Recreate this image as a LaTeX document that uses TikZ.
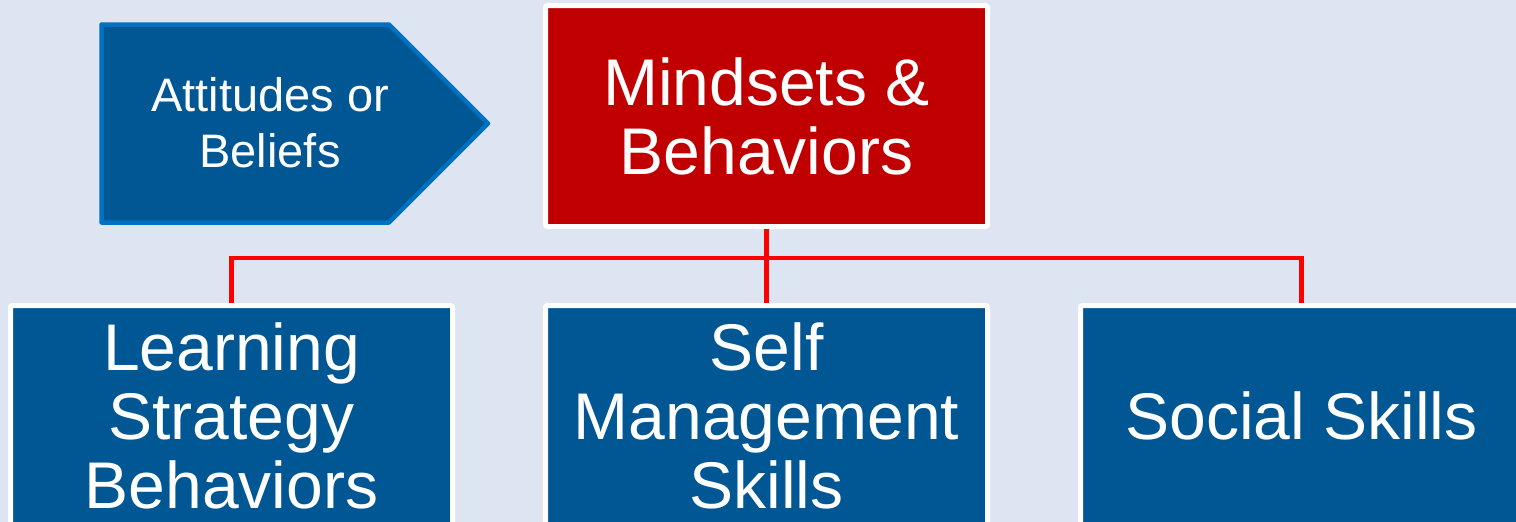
\documentclass[tikz,border=0pt]{standalone}
\usepackage{fontspec}
\setmainfont{Liberation Sans}
\definecolor{bgc}{RGB}{222,229,242}
\definecolor{boxblue}{RGB}{0,87,148}
\definecolor{arrowedge}{RGB}{0,112,192}
\definecolor{boxred}{RGB}{192,0,0}
\definecolor{linered}{RGB}{255,0,0}
\tikzset{
  bigbox/.style={rectangle, draw=white, line width=5pt, rounded corners=2pt,
    minimum width=442pt, minimum height=221pt, inner sep=0pt,
    text=white, align=center, font=\fontsize{66}{69}\selectfont},
  bluebox/.style={bigbox, fill=boxblue},
  redbox/.style={bigbox, fill=boxred},
  conn/.style={draw=linered, line width=4.5pt},
  arrowshape/.style={fill=boxblue, draw=arrowedge, line width=4.5pt, line join=round},
  arrowtext/.style={text=white, align=center, font=\fontsize{47}{56}\selectfont, inner sep=0pt}
}
\begin{document}
\begin{tikzpicture}[x=1pt, y=-1pt]
\fill[bgc] (0,0) rectangle (1516,522);
\useasboundingbox (0,0) rectangle (1516,522);
\clip (0,0) rectangle (1516,522);
% arrow shape
\draw[arrowshape] (101.5,24.5) -- (389,24.5) -- (488,123.5) -- (389,222.5) -- (101.5,222.5) -- cycle;
\node[arrowtext] (att) at (270,123) {Attitudes or\\Beliefs};
% main box
\node[redbox] (mb) at (766.5,116) {Mindsets \&\\Behaviors};
% lower boxes
\node[bluebox] (lsb) at (231.5,416) {Learning\\Strategy\\Behaviors};
\node[bluebox] (sm) at (766.5,416) {Self\\Management\\Skills};
\node[bluebox] (ss) at (1301.5,416) {Social Skills};
% connectors
\draw[conn] (mb.south) -- (sm.north);
\draw[conn] (lsb.north) -- ++(0,-45) -| (ss.north);
\end{tikzpicture}
\end{document}
